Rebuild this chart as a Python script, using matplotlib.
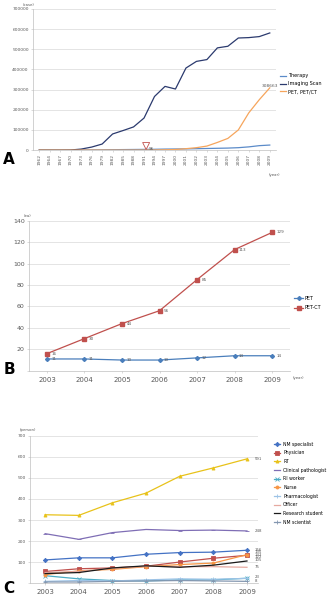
import matplotlib
matplotlib.use('Agg')
import matplotlib.pyplot as plt
import numpy as np

# ---- panel A data ----
years_a = ['1962', '1964', '1967', '1970', '1973', '1976', '1979', '1982', '1985',
           '1988', '1991', '1994', '1997', '2000', '2001', '2002', '2003', '2004',
           '2005', '2006', '2007', '2008', '2009']
therapy = [0, 0, 0, 0, 500, 1000, 1500, 2000, 2500, 3000, 3500, 4000, 5000, 5500,
           6000, 7000, 8000, 9000, 10000, 12000, 16000, 22000, 25000]
imaging = [0, 0, 0, 500, 5000, 15000, 30000, 80000, 97000, 115000, 159000, 266000,
           316000, 303000, 407000, 440000, 449000, 507000, 515000, 556000, 558000,
           563000, 581000]
pet_a = [0, 0, 0, 0, 0, 0, 0, 0, 0, 0, 96, 500, 1500, 3000, 7000, 12000, 20000,
         38000, 58000, 100000, 185000, 250000, 308663]

# ---- panel B data ----
years_b = ['2003', '2004', '2005', '2006', '2007', '2008', '2009']
pet_b = [11, 11, 10, 10, 12, 14, 14]
petct_b = [16, 30, 44, 56, 85, 113, 129]

# ---- panel C data ----
staff = ['NM specialist', 'Physician', 'RT', 'Clinical pathologist', 'RI worker',
         'Nurse', 'Pharmacologist', 'Officer', 'Research student', 'NM scientist']
staff_counts = [
    [110, 120, 120, 137, 145, 147, 156],
    [55, 68, 72, 80, 100, 118, 132],
    [325, 322, 382, 428, 508, 548, 591],
    [235, 208, 240, 255, 250, 252, 248],
    [35, 20, 12, 10, 15, 15, 23],
    [40, 58, 65, 78, 88, 95, 135],
    [8, 12, 10, 15, 20, 18, 22],
    [50, 55, 70, 80, 78, 78, 75],
    [45, 50, 72, 82, 75, 85, 105],
    [5, 5, 8, 10, 12, 10, 8],
]
staff_labels = ['156', '132', '591', '248', '23', '135', None, '75', '105', '8']

fig = plt.figure(figsize=(3.33, 5.98), dpi=100)
grid_c = '#d9d9d9'
txt_c = '#595959'

def style(ax, fs):
    for s in ['top', 'right']:
        ax.spines[s].set_visible(False)
    ax.spines['left'].set_color('#bfbfbf')
    ax.spines['bottom'].set_color('#bfbfbf')
    ax.spines['left'].set_linewidth(0.5)
    ax.spines['bottom'].set_linewidth(0.5)
    ax.yaxis.grid(True, color=grid_c, linewidth=0.5)
    ax.set_axisbelow(True)
    ax.tick_params(length=1.5, width=0.4, color='#bfbfbf', labelsize=fs,
                   labelcolor=txt_c, pad=1.5)

# ---- A ----
ax = fig.add_axes([0.099, 0.749, 0.73, 0.236])
xa = np.arange(len(years_a))
ax.plot(xa, therapy, color='#5b8bc9', lw=0.9, label='Therapy')
ax.plot(xa, imaging, color='#2b3a6e', lw=0.9, label='Imaging Scan')
ax.plot(xa, pet_a, color='#f6a55c', lw=0.9, label='PET, PET/CT')
ax.set_xlim(-0.6, 22.6)
ax.set_ylim(0, 700000)
ax.set_yticks(np.arange(0, 700001, 100000))
ax.set_xticks(xa)
ax.set_xticklabels(years_a, rotation=90)
style(ax, 3.2)
ax.annotate('', xy=(10.2, 3000), xytext=(10.2, 28000),
            arrowprops=dict(arrowstyle='simple,head_width=0.5,tail_width=0.25',
                            fc='white', ec='#c0504d', lw=0.6))
ax.text(10.45, 1500, '96', fontsize=3, color=txt_c)
ax.text(22, pet_a[-1] + 5000, str(pet_a[-1]), fontsize=3.2, color=txt_c, ha='center')
ax.text(-0.5, 715000, '(case)', fontsize=2.8, color=txt_c, ha='right')
ax.text(23, -128000, '(year)', fontsize=2.8, color=txt_c, ha='right')
ax.legend(loc='center left', bbox_to_anchor=(1.0, 0.47), frameon=False, fontsize=3.5,
          handlelength=1.1, labelspacing=0.6, handletextpad=0.5)
fig.text(0.01, 0.725, 'A', fontsize=11, fontweight='bold')

# ---- B ----
ax = fig.add_axes([0.087, 0.380, 0.784, 0.251])
xb = np.arange(len(years_b))
ax.plot(xb, pet_b, color='#4a7ebb', lw=0.9, marker='D', ms=2, label='PET')
ax.plot(xb, petct_b, color='#c0504d', lw=0.9, marker='s', ms=3, label='PET-CT')
for i in xb:
    ax.text(i + 0.12, pet_b[i], str(pet_b[i]), fontsize=3, color=txt_c, va='center')
    ax.text(i + 0.12, petct_b[i], str(petct_b[i]), fontsize=3, color=txt_c, va='center')
ax.set_xlim(-0.48, 6.48)
ax.set_ylim(0, 140)
ax.set_yticks(np.arange(0, 141, 20))
ax.set_yticklabels([''] + [str(v) for v in range(20, 141, 20)])
ax.set_xticks(xb)
ax.set_xticklabels(years_b)
style(ax, 4.5)
ax.tick_params(axis='x', labelsize=5, pad=3)
ax.text(-0.62, 143, '(ea)', fontsize=2.8, color=txt_c)
ax.text(6.55, -8, '(year)', fontsize=2.8, color=txt_c)
ax.legend(loc='center left', bbox_to_anchor=(1.0, 0.45), frameon=False, fontsize=3.5,
          handlelength=1.8, labelspacing=0.9, handletextpad=0.3)
fig.text(0.01, 0.375, 'B', fontsize=11, fontweight='bold')

# ---- C ----
ax = fig.add_axes([0.090, 0.025, 0.685, 0.246])
colors_c = ['#4472c4', '#c0504d', '#e8c21a', '#7f6eb5', '#4bacc6', '#f79646',
            '#9dc3e6', '#e6a9a0', '#1a1a1a', '#8497b0']
markers_c = ['D', 's', '^', '_', 'x', 'o', '+', '', '', '+']
for name, vals, col, mk in zip(staff, staff_counts, colors_c, markers_c):
    ax.plot(xb, vals, color=col, lw=0.9, marker=mk if mk else None, ms=2.2,
            mew=0.6, label=name)
label_y = {'156': 158, '135': 146, '132': 134, '122': 122, '105': 108, '75': 75,
           '23': 28, '8': 10, '591': 591, '248': 248}
for lab in staff_labels:
    if lab is None:
        continue
    ax.text(6.22, label_y[lab], lab, fontsize=2.8, color=txt_c, va='center')
ax.text(6.22, label_y['122'], '122', fontsize=2.8, color=txt_c, va='center')
ax.set_xlim(-0.45, 6.33)
ax.set_ylim(0, 700)
ax.set_yticks(np.arange(0, 701, 100))
ax.set_yticklabels([''] + [str(v) for v in range(100, 701, 100)])
ax.set_xticks(xb)
ax.set_xticklabels(years_b)
style(ax, 3.2)
ax.tick_params(axis='x', labelsize=5, pad=3)
ax.text(-0.75, 725, '(person)', fontsize=2.8, color=txt_c)
ax.legend(loc='upper left', bbox_to_anchor=(1.05, 0.99), frameon=False, fontsize=3.3,
          handlelength=1.5, labelspacing=0.8, handletextpad=0.6)
fig.text(0.01, 0.003, 'C', fontsize=11, fontweight='bold', va='bottom')

plt.savefig('out.png', dpi=100)
plt.close(fig)
